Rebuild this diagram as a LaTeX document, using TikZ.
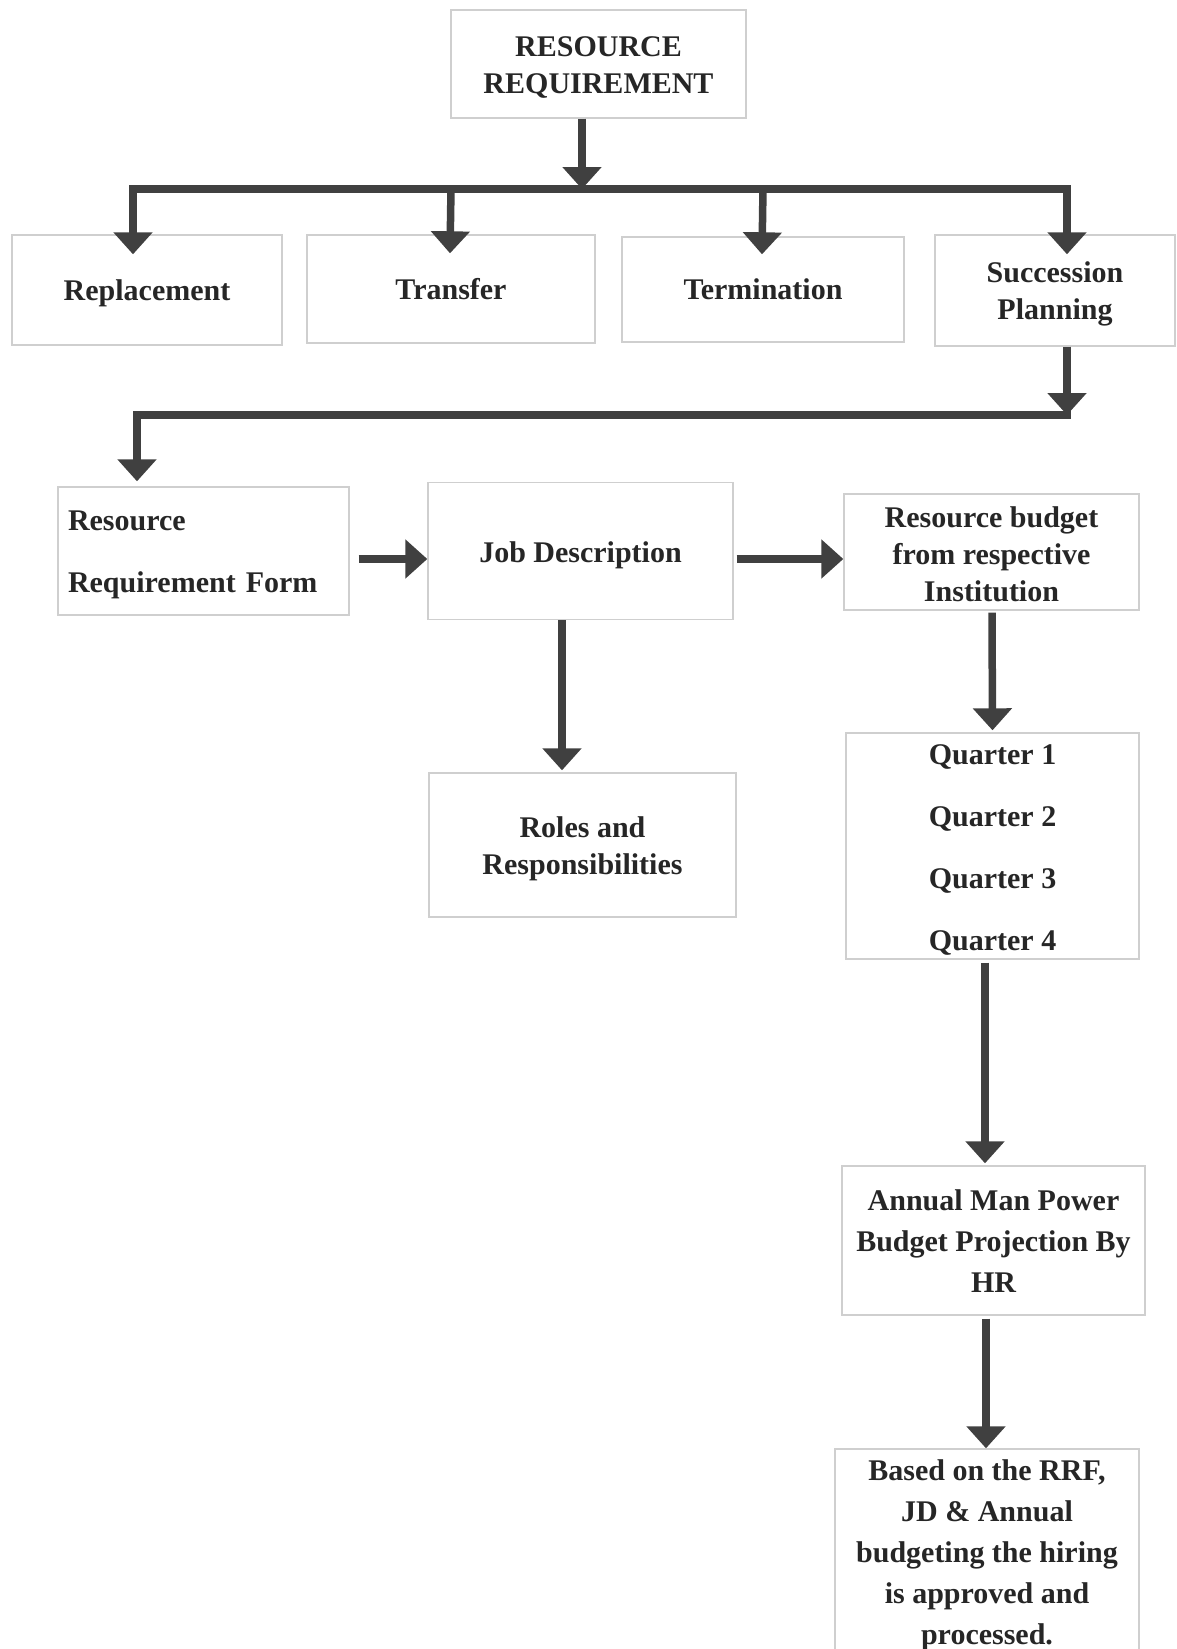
\documentclass[tikz,border=0pt]{standalone}
\usepackage{fontspec}
\setmainfont{Liberation Serif}
\usetikzlibrary{arrows.meta}
\definecolor{ink}{HTML}{262626}
\definecolor{linkgray}{HTML}{404040}
\definecolor{boxgray}{HTML}{CFCFCF}
\begin{document}
\begin{tikzpicture}[x=1pt, y=-1pt,
  box/.style={draw=boxgray, line width=1.4pt, inner sep=0pt},
  txt/.style={inner sep=0pt, align=center, text=ink,
    font=\bfseries\fontsize{30}{37}\selectfont},
  link/.style={draw=linkgray, line width=7.5pt},
  arr/.style={link, -{Triangle[width=38pt,length=22pt]}},
  arrs/.style={link, {Triangle[width=38pt,length=22pt]}-{Triangle[width=38pt,length=22pt]}}]
\useasboundingbox (0,0) rectangle (1176,1649);
\clip (0,0) rectangle (1176,1649);

% boxes
\node[box, minimum width=295pt, minimum height=108pt] (top) at (598.5,64) {};
\node[box, minimum width=270pt, minimum height=110pt] (rep) at (147,290) {};
\node[box, minimum width=288pt, minimum height=108pt] (tra) at (451,289) {};
\node[box, minimum width=282pt, minimum height=105pt] (ter) at (763,289.5) {};
\node[box, minimum width=240pt, minimum height=111pt] (suc) at (1055,290.5) {};
\node[box, minimum width=291pt, minimum height=128pt] (rrf) at (203.5,551) {};
\node[box, minimum width=305pt, minimum height=137pt] (jd) at (580.5,551) {};
\node[box, minimum width=295pt, minimum height=116pt] (bud) at (991.5,552) {};
\node[box, minimum width=307pt, minimum height=144pt] (rol) at (582.5,845) {};
\node[box, minimum width=293pt, minimum height=226pt] (qtr) at (992.5,846) {};
\node[box, minimum width=303pt, minimum height=149pt] (ann) at (993.5,1240.5) {};
\node[box, minimum width=304pt, minimum height=207pt] (fin) at (987,1552.5) {};

% box texts
\node[txt] (top-t) at ([yshift=-3pt]top.center) {RESOURCE\\REQUIREMENT};
\node[txt] (rep-t) at ([yshift=-3pt]rep.center) {Replacement};
\node[txt] (tra-t) at (tra.center) {Transfer};
\node[txt] (ter-t) at (ter.center) {Termination};
\node[txt] (suc-t) at ([yshift=-3pt]suc.center) {Succession\\Planning};
\node[txt, text width=271pt, align=left, font=\bfseries\fontsize{30}{62}\selectfont]
  (rrf-t) at ([xshift=0pt,yshift=-4pt]rrf.center) {Resource\\Requirement Form};
\node[txt] (jd-t) at ([yshift=-4pt]jd.center) {Job Description};
\node[txt] (bud-t) at ([yshift=-2pt]bud.center) {Resource budget\\from respective\\Institution};
\node[txt] (rol-t) at ([yshift=-4pt]rol.center) {Roles and\\Responsibilities};
\node[txt, font=\bfseries\fontsize{30}{62}\selectfont]
  (qtr-t) at ([yshift=-4pt]qtr.center) {Quarter 1\\Quarter 2\\Quarter 3\\Quarter 4};
\node[txt, font=\bfseries\fontsize{30}{41}\selectfont]
  (ann-t) at ([yshift=-1pt]ann.center) {Annual Man Power\\Budget Projection By\\HR};
\node[txt, font=\bfseries\fontsize{30}{41}\selectfont]
  (fin-t) at ([yshift=-3pt]fin.center) {Based on the RRF,\\JD \& Annual\\budgeting the hiring\\is approved and\\processed.};

% junctions of the two horizontal bars
\coordinate (busM) at (582,189);
\coordinate (busR) at (1067,415);

% top box down to the first bar, which branches to the four cases
\draw[arr] ([xshift=-16.5pt]top.south) -- (busM);
\draw[arrs] ([xshift=-14pt,yshift=-20pt]rep.north) |- (busM) -| ([xshift=12pt,yshift=-20pt]suc.north);
\draw[arr] (busM -| tra.north) -- ([xshift=-1pt,yshift=-19pt]tra.north);
\draw[arr] (busM -| ter.north) -- ([xshift=-1pt,yshift=-18pt]ter.north);

% succession planning down to the second bar, then to the form
\draw[arr] ([xshift=12pt]suc.south) -- (busR);
\draw[arr, line cap=rect] (busR) -| ([xshift=-66.5pt,yshift=5pt]rrf.north);

% form -> job description -> budget
\draw[arr] ([xshift=9pt,yshift=-8pt]rrf.east) -- ([yshift=-8pt]jd.west);
\draw[arr] ([xshift=3pt,yshift=-8pt]jd.east) -- ([yshift=-7pt]bud.west);

% job description -> roles
\draw[arr] ([xshift=-18.5pt]jd.south) -- ([xshift=-20.5pt,yshift=2pt]rol.north);

% budget chain
\draw[arr] ([xshift=0.5pt,yshift=-2pt]bud.south) -- ([yshift=2pt]qtr.north);
\draw[arr] ([xshift=-7.5pt,yshift=-3pt]qtr.south) -- ([xshift=-8.5pt,yshift=2pt]ann.north);
\draw[arr] ([xshift=-7.5pt,yshift=-3pt]ann.south) -- ([xshift=-1pt]fin.north);
\end{tikzpicture}
\end{document}
